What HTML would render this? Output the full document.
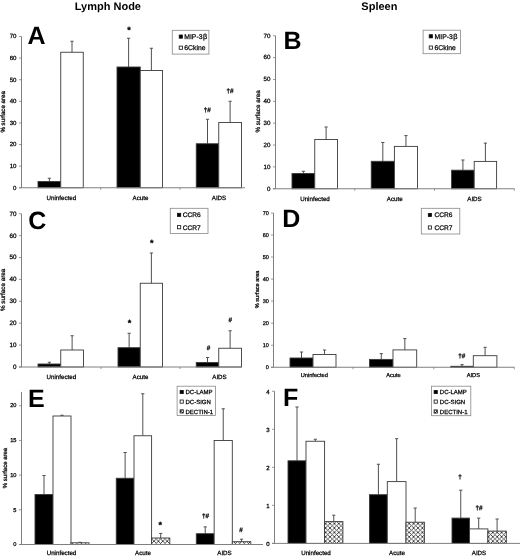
<!DOCTYPE html><html><head><meta charset="utf-8"><style>html,body{margin:0;padding:0;background:#fff;}svg{display:block;font-family:"Liberation Sans", sans-serif;text-rendering:geometricPrecision;}text{fill:#000;}.s{stroke:#000;stroke-width:0.25px;}svg{will-change:transform;}</style></head><body>
<svg width="520" height="557" viewBox="0 0 520 557">
<defs><pattern id="hatch" width="4.4" height="4.4" patternUnits="userSpaceOnUse"><rect width="4.4" height="4.4" fill="#fff"/><path d="M0,0 L4.4,4.4 M4.4,0 L0,4.4" stroke="#333" stroke-width="0.85"/></pattern><pattern id="hatch2" width="3.2" height="3.2" patternUnits="userSpaceOnUse"><rect width="3.2" height="3.2" fill="#fff"/><path d="M0,0 L3.2,3.2 M3.2,0 L0,3.2" stroke="#222" stroke-width="0.8"/></pattern></defs>
<rect width="520" height="557" fill="#fff"/>
<text x="107.9" y="9.7" font-size="11" text-anchor="middle" font-weight="bold">Lymph Node</text>
<text x="379.4" y="9.7" font-size="11" text-anchor="middle" font-weight="bold">Spleen</text>
<line x1="49.38" y1="181.5" x2="49.38" y2="178.25" stroke="#505050" stroke-width="1"/>
<line x1="47.77" y1="178.25" x2="50.98" y2="178.25" stroke="#505050" stroke-width="1"/>
<rect x="38" y="181.5" width="22.75" height="6.25" fill="#000" stroke="#3a3a3a" stroke-width="0.9"/>
<line x1="72" y1="52.25" x2="72" y2="41.25" stroke="#505050" stroke-width="1"/>
<line x1="70.4" y1="41.25" x2="73.6" y2="41.25" stroke="#505050" stroke-width="1"/>
<rect x="60.75" y="52.25" width="22.5" height="135.5" fill="#fff" stroke="#3a3a3a" stroke-width="0.9"/>
<line x1="128.62" y1="67" x2="128.62" y2="38.25" stroke="#505050" stroke-width="1"/>
<line x1="127.03" y1="38.25" x2="130.22" y2="38.25" stroke="#505050" stroke-width="1"/>
<rect x="117" y="67" width="23.25" height="120.75" fill="#000" stroke="#3a3a3a" stroke-width="0.9"/>
<line x1="151.38" y1="70.5" x2="151.38" y2="48.25" stroke="#505050" stroke-width="1"/>
<line x1="149.78" y1="48.25" x2="152.97" y2="48.25" stroke="#505050" stroke-width="1"/>
<rect x="140.25" y="70.5" width="22.25" height="117.25" fill="#fff" stroke="#3a3a3a" stroke-width="0.9"/>
<line x1="207.5" y1="143.75" x2="207.5" y2="119.25" stroke="#505050" stroke-width="1"/>
<line x1="205.9" y1="119.25" x2="209.1" y2="119.25" stroke="#505050" stroke-width="1"/>
<rect x="196.25" y="143.75" width="22.5" height="44" fill="#000" stroke="#3a3a3a" stroke-width="0.9"/>
<line x1="230.12" y1="122.5" x2="230.12" y2="101.25" stroke="#505050" stroke-width="1"/>
<line x1="228.53" y1="101.25" x2="231.72" y2="101.25" stroke="#505050" stroke-width="1"/>
<rect x="218.75" y="122.5" width="22.75" height="65.25" fill="#fff" stroke="#3a3a3a" stroke-width="0.9"/>
<line x1="21.5" y1="36.5" x2="21.5" y2="187.75" stroke="#808080" stroke-width="1"/>
<line x1="19" y1="187.75" x2="245" y2="187.75" stroke="#808080" stroke-width="1"/>
<line x1="100.75" y1="187.75" x2="100.75" y2="189.75" stroke="#808080" stroke-width="0.8"/>
<line x1="180" y1="187.75" x2="180" y2="189.75" stroke="#808080" stroke-width="0.8"/>
<line x1="19" y1="187.75" x2="21.5" y2="187.75" stroke="#808080" stroke-width="0.8"/>
<text x="16.5" y="189.58" font-size="6.1" text-anchor="end" font-weight="normal" class="s">0</text>
<line x1="19" y1="166.14" x2="21.5" y2="166.14" stroke="#808080" stroke-width="0.8"/>
<text x="16.5" y="167.97" font-size="6.1" text-anchor="end" font-weight="normal" class="s">10</text>
<line x1="19" y1="144.54" x2="21.5" y2="144.54" stroke="#808080" stroke-width="0.8"/>
<text x="16.5" y="146.37" font-size="6.1" text-anchor="end" font-weight="normal" class="s">20</text>
<line x1="19" y1="122.93" x2="21.5" y2="122.93" stroke="#808080" stroke-width="0.8"/>
<text x="16.5" y="124.76" font-size="6.1" text-anchor="end" font-weight="normal" class="s">30</text>
<line x1="19" y1="101.32" x2="21.5" y2="101.32" stroke="#808080" stroke-width="0.8"/>
<text x="16.5" y="103.15" font-size="6.1" text-anchor="end" font-weight="normal" class="s">40</text>
<line x1="19" y1="79.71" x2="21.5" y2="79.71" stroke="#808080" stroke-width="0.8"/>
<text x="16.5" y="81.54" font-size="6.1" text-anchor="end" font-weight="normal" class="s">50</text>
<line x1="19" y1="58.11" x2="21.5" y2="58.11" stroke="#808080" stroke-width="0.8"/>
<text x="16.5" y="59.94" font-size="6.1" text-anchor="end" font-weight="normal" class="s">60</text>
<line x1="19" y1="36.5" x2="21.5" y2="36.5" stroke="#808080" stroke-width="0.8"/>
<text x="16.5" y="38.33" font-size="6.1" text-anchor="end" font-weight="normal" class="s">70</text>
<text x="61.3" y="199.5" font-size="6.2" text-anchor="middle" font-weight="normal" class="s">Uninfected</text>
<text x="140.5" y="199.5" font-size="6.2" text-anchor="middle" font-weight="normal" class="s">Acute</text>
<text x="219" y="199.5" font-size="6.2" text-anchor="middle" font-weight="normal" class="s">AIDS</text>
<text class="s" x="0" y="0" font-size="6.2" text-anchor="middle" transform="translate(5,111.8) rotate(-90)">% surface area</text>
<text x="129.1" y="32.7" font-size="9" text-anchor="middle" font-weight="bold" class="s">*</text>
<text x="207.3" y="112" font-size="6.3" text-anchor="middle" font-weight="bold" class="s">†#</text>
<text x="230" y="93" font-size="6.3" text-anchor="middle" font-weight="bold" class="s">†#</text>
<rect x="172.25" y="30.3" width="36.65" height="23.8" fill="#fff" stroke="#888" stroke-width="0.8"/>
<rect x="179.2" y="35" width="3.2" height="3.2" fill="#000" stroke="#111" stroke-width="0.8"/>
<text x="184.3" y="39.05" font-size="6.8" text-anchor="start" font-weight="normal" class="s">MIP-3<tspan dx="0.5" font-size="7.34">β</tspan></text>
<rect x="179.2" y="46.1" width="3.2" height="3.2" fill="#fff" stroke="#111" stroke-width="0.8"/>
<text x="184.3" y="50.15" font-size="6.8" text-anchor="start" font-weight="normal" class="s">6Ckine</text>
<text x="27.6" y="43.8" font-size="25" text-anchor="start" font-weight="bold">A</text>
<line x1="303.38" y1="173.5" x2="303.38" y2="171.25" stroke="#505050" stroke-width="1"/>
<line x1="301.77" y1="171.25" x2="304.98" y2="171.25" stroke="#505050" stroke-width="1"/>
<rect x="292" y="173.5" width="22.75" height="15.25" fill="#000" stroke="#3a3a3a" stroke-width="0.9"/>
<line x1="326.12" y1="139.5" x2="326.12" y2="127" stroke="#505050" stroke-width="1"/>
<line x1="324.52" y1="127" x2="327.73" y2="127" stroke="#505050" stroke-width="1"/>
<rect x="314.75" y="139.5" width="22.75" height="49.25" fill="#fff" stroke="#3a3a3a" stroke-width="0.9"/>
<line x1="382.82" y1="161.3" x2="382.82" y2="142.5" stroke="#505050" stroke-width="1"/>
<line x1="381.22" y1="142.5" x2="384.43" y2="142.5" stroke="#505050" stroke-width="1"/>
<rect x="371.25" y="161.3" width="23.15" height="27.45" fill="#000" stroke="#3a3a3a" stroke-width="0.9"/>
<line x1="405.95" y1="146.4" x2="405.95" y2="135.6" stroke="#505050" stroke-width="1"/>
<line x1="404.35" y1="135.6" x2="407.55" y2="135.6" stroke="#505050" stroke-width="1"/>
<rect x="394.4" y="146.4" width="23.1" height="42.35" fill="#fff" stroke="#3a3a3a" stroke-width="0.9"/>
<line x1="462.9" y1="170.2" x2="462.9" y2="160" stroke="#505050" stroke-width="1"/>
<line x1="461.3" y1="160" x2="464.5" y2="160" stroke="#505050" stroke-width="1"/>
<rect x="451.6" y="170.2" width="22.6" height="18.55" fill="#000" stroke="#3a3a3a" stroke-width="0.9"/>
<line x1="485.4" y1="161.4" x2="485.4" y2="143.1" stroke="#505050" stroke-width="1"/>
<line x1="483.8" y1="143.1" x2="487" y2="143.1" stroke="#505050" stroke-width="1"/>
<rect x="474.2" y="161.4" width="22.4" height="27.35" fill="#fff" stroke="#3a3a3a" stroke-width="0.9"/>
<line x1="275.5" y1="35.75" x2="275.5" y2="188.75" stroke="#808080" stroke-width="1"/>
<line x1="273" y1="188.75" x2="514.5" y2="188.75" stroke="#808080" stroke-width="1"/>
<line x1="354.75" y1="188.75" x2="354.75" y2="190.75" stroke="#808080" stroke-width="0.8"/>
<line x1="434.5" y1="188.75" x2="434.5" y2="190.75" stroke="#808080" stroke-width="0.8"/>
<line x1="514.25" y1="188.75" x2="514.25" y2="190.75" stroke="#808080" stroke-width="0.8"/>
<line x1="273" y1="188.75" x2="275.5" y2="188.75" stroke="#808080" stroke-width="0.8"/>
<text x="270.5" y="190.61" font-size="6.2" text-anchor="end" font-weight="normal" class="s">0</text>
<line x1="273" y1="166.89" x2="275.5" y2="166.89" stroke="#808080" stroke-width="0.8"/>
<text x="270.5" y="168.75" font-size="6.2" text-anchor="end" font-weight="normal" class="s">10</text>
<line x1="273" y1="145.04" x2="275.5" y2="145.04" stroke="#808080" stroke-width="0.8"/>
<text x="270.5" y="146.9" font-size="6.2" text-anchor="end" font-weight="normal" class="s">20</text>
<line x1="273" y1="123.18" x2="275.5" y2="123.18" stroke="#808080" stroke-width="0.8"/>
<text x="270.5" y="125.04" font-size="6.2" text-anchor="end" font-weight="normal" class="s">30</text>
<line x1="273" y1="101.32" x2="275.5" y2="101.32" stroke="#808080" stroke-width="0.8"/>
<text x="270.5" y="103.18" font-size="6.2" text-anchor="end" font-weight="normal" class="s">40</text>
<line x1="273" y1="79.46" x2="275.5" y2="79.46" stroke="#808080" stroke-width="0.8"/>
<text x="270.5" y="81.32" font-size="6.2" text-anchor="end" font-weight="normal" class="s">50</text>
<line x1="273" y1="57.61" x2="275.5" y2="57.61" stroke="#808080" stroke-width="0.8"/>
<text x="270.5" y="59.47" font-size="6.2" text-anchor="end" font-weight="normal" class="s">60</text>
<line x1="273" y1="35.75" x2="275.5" y2="35.75" stroke="#808080" stroke-width="0.8"/>
<text x="270.5" y="37.61" font-size="6.2" text-anchor="end" font-weight="normal" class="s">70</text>
<text x="315" y="200.5" font-size="6.2" text-anchor="middle" font-weight="normal" class="s">Uninfected</text>
<text x="394.75" y="200.5" font-size="6.2" text-anchor="middle" font-weight="normal" class="s">Acute</text>
<text x="474.5" y="200.5" font-size="6.2" text-anchor="middle" font-weight="normal" class="s">AIDS</text>
<text class="s" x="0" y="0" font-size="6.3" text-anchor="middle" transform="translate(259.6,111.4) rotate(-90)">% surface area</text>
<rect x="423.1" y="30.2" width="37.4" height="23.5" fill="#fff" stroke="#888" stroke-width="0.8"/>
<rect x="429.2" y="34.7" width="3.2" height="3.2" fill="#000" stroke="#111" stroke-width="0.8"/>
<text x="434.6" y="38.75" font-size="6.8" text-anchor="start" font-weight="normal" class="s">MIP-3<tspan dx="0.5" font-size="7.34">β</tspan></text>
<rect x="429.2" y="46" width="3.2" height="3.2" fill="#fff" stroke="#111" stroke-width="0.8"/>
<text x="434.6" y="50.05" font-size="6.8" text-anchor="start" font-weight="normal" class="s">6Ckine</text>
<text x="283.6" y="48.55" font-size="25" text-anchor="start" font-weight="bold">B</text>
<line x1="49.38" y1="364" x2="49.38" y2="362.25" stroke="#505050" stroke-width="1"/>
<line x1="47.77" y1="362.25" x2="50.98" y2="362.25" stroke="#505050" stroke-width="1"/>
<rect x="38" y="364" width="22.75" height="3" fill="#000" stroke="#3a3a3a" stroke-width="0.9"/>
<line x1="72.12" y1="350" x2="72.12" y2="335.75" stroke="#505050" stroke-width="1"/>
<line x1="70.53" y1="335.75" x2="73.72" y2="335.75" stroke="#505050" stroke-width="1"/>
<rect x="60.75" y="350" width="22.75" height="17" fill="#fff" stroke="#3a3a3a" stroke-width="0.9"/>
<line x1="129.12" y1="347.7" x2="129.12" y2="333.25" stroke="#505050" stroke-width="1"/>
<line x1="127.53" y1="333.25" x2="130.72" y2="333.25" stroke="#505050" stroke-width="1"/>
<rect x="118" y="347.7" width="22.25" height="19.3" fill="#000" stroke="#3a3a3a" stroke-width="0.9"/>
<line x1="151.38" y1="283.25" x2="151.38" y2="253" stroke="#505050" stroke-width="1"/>
<line x1="149.78" y1="253" x2="152.97" y2="253" stroke="#505050" stroke-width="1"/>
<rect x="140.25" y="283.25" width="22.25" height="83.75" fill="#fff" stroke="#3a3a3a" stroke-width="0.9"/>
<line x1="207.5" y1="362.5" x2="207.5" y2="357.5" stroke="#505050" stroke-width="1"/>
<line x1="205.9" y1="357.5" x2="209.1" y2="357.5" stroke="#505050" stroke-width="1"/>
<rect x="196.25" y="362.5" width="22.5" height="4.5" fill="#000" stroke="#3a3a3a" stroke-width="0.9"/>
<line x1="230.12" y1="348.25" x2="230.12" y2="330.75" stroke="#505050" stroke-width="1"/>
<line x1="228.53" y1="330.75" x2="231.72" y2="330.75" stroke="#505050" stroke-width="1"/>
<rect x="218.75" y="348.25" width="22.75" height="18.75" fill="#fff" stroke="#3a3a3a" stroke-width="0.9"/>
<line x1="21.5" y1="213.75" x2="21.5" y2="367" stroke="#808080" stroke-width="1"/>
<line x1="19" y1="367" x2="242" y2="367" stroke="#808080" stroke-width="1"/>
<line x1="101" y1="367" x2="101" y2="369" stroke="#808080" stroke-width="0.8"/>
<line x1="180" y1="367" x2="180" y2="369" stroke="#808080" stroke-width="0.8"/>
<line x1="19" y1="367" x2="21.5" y2="367" stroke="#808080" stroke-width="0.8"/>
<text x="16.5" y="368.89" font-size="6.3" text-anchor="end" font-weight="normal" class="s">0</text>
<line x1="19" y1="345.11" x2="21.5" y2="345.11" stroke="#808080" stroke-width="0.8"/>
<text x="16.5" y="347" font-size="6.3" text-anchor="end" font-weight="normal" class="s">10</text>
<line x1="19" y1="323.21" x2="21.5" y2="323.21" stroke="#808080" stroke-width="0.8"/>
<text x="16.5" y="325.1" font-size="6.3" text-anchor="end" font-weight="normal" class="s">20</text>
<line x1="19" y1="301.32" x2="21.5" y2="301.32" stroke="#808080" stroke-width="0.8"/>
<text x="16.5" y="303.21" font-size="6.3" text-anchor="end" font-weight="normal" class="s">30</text>
<line x1="19" y1="279.43" x2="21.5" y2="279.43" stroke="#808080" stroke-width="0.8"/>
<text x="16.5" y="281.32" font-size="6.3" text-anchor="end" font-weight="normal" class="s">40</text>
<line x1="19" y1="257.54" x2="21.5" y2="257.54" stroke="#808080" stroke-width="0.8"/>
<text x="16.5" y="259.43" font-size="6.3" text-anchor="end" font-weight="normal" class="s">50</text>
<line x1="19" y1="235.64" x2="21.5" y2="235.64" stroke="#808080" stroke-width="0.8"/>
<text x="16.5" y="237.53" font-size="6.3" text-anchor="end" font-weight="normal" class="s">60</text>
<line x1="19" y1="213.75" x2="21.5" y2="213.75" stroke="#808080" stroke-width="0.8"/>
<text x="16.5" y="215.64" font-size="6.3" text-anchor="end" font-weight="normal" class="s">70</text>
<text x="61.3" y="379" font-size="6.2" text-anchor="middle" font-weight="normal" class="s">Uninfected</text>
<text x="140.5" y="379" font-size="6.2" text-anchor="middle" font-weight="normal" class="s">Acute</text>
<text x="219.5" y="379" font-size="6.2" text-anchor="middle" font-weight="normal" class="s">AIDS</text>
<text class="s" x="0" y="0" font-size="6.3" text-anchor="middle" transform="translate(5,289.9) rotate(-90)">% surface area</text>
<text x="129.5" y="326.35" font-size="9" text-anchor="middle" font-weight="bold" class="s">*</text>
<text x="151.8" y="245.8" font-size="9" text-anchor="middle" font-weight="bold" class="s">*</text>
<text x="208.5" y="350" font-size="6.3" text-anchor="middle" font-weight="bold" class="s">#</text>
<text x="230.25" y="321.5" font-size="6.3" text-anchor="middle" font-weight="bold" class="s">#</text>
<rect x="170.25" y="208.3" width="37.75" height="25.1" fill="#fff" stroke="#888" stroke-width="0.8"/>
<rect x="177.5" y="213.3" width="3.2" height="3.2" fill="#000" stroke="#111" stroke-width="0.8"/>
<text x="182.8" y="217.28" font-size="6.6" text-anchor="start" font-weight="normal" class="s">CCR6</text>
<rect x="177.5" y="225.6" width="3.2" height="3.2" fill="#fff" stroke="#111" stroke-width="0.8"/>
<text x="182.8" y="229.58" font-size="6.6" text-anchor="start" font-weight="normal" class="s">CCR7</text>
<text x="28.35" y="228.8" font-size="25" text-anchor="start" font-weight="bold">C</text>
<line x1="301.5" y1="358" x2="301.5" y2="352" stroke="#505050" stroke-width="1"/>
<line x1="299.9" y1="352" x2="303.1" y2="352" stroke="#505050" stroke-width="1"/>
<rect x="290" y="358" width="23" height="9.25" fill="#000" stroke="#3a3a3a" stroke-width="0.9"/>
<line x1="324.5" y1="354.5" x2="324.5" y2="350" stroke="#505050" stroke-width="1"/>
<line x1="322.9" y1="350" x2="326.1" y2="350" stroke="#505050" stroke-width="1"/>
<rect x="313" y="354.5" width="23" height="12.75" fill="#fff" stroke="#3a3a3a" stroke-width="0.9"/>
<line x1="381.25" y1="359.4" x2="381.25" y2="353.6" stroke="#505050" stroke-width="1"/>
<line x1="379.65" y1="353.6" x2="382.85" y2="353.6" stroke="#505050" stroke-width="1"/>
<rect x="369.5" y="359.4" width="23.5" height="7.85" fill="#000" stroke="#3a3a3a" stroke-width="0.9"/>
<line x1="404.85" y1="349.9" x2="404.85" y2="338.6" stroke="#505050" stroke-width="1"/>
<line x1="403.25" y1="338.6" x2="406.45" y2="338.6" stroke="#505050" stroke-width="1"/>
<rect x="393" y="349.9" width="23.7" height="17.35" fill="#fff" stroke="#3a3a3a" stroke-width="0.9"/>
<line x1="462.05" y1="366.3" x2="462.05" y2="364.6" stroke="#505050" stroke-width="1"/>
<line x1="460.45" y1="364.6" x2="463.65" y2="364.6" stroke="#505050" stroke-width="1"/>
<rect x="450.8" y="366.3" width="22.5" height="0.95" fill="#000" stroke="#3a3a3a" stroke-width="0.9"/>
<line x1="485.1" y1="355.7" x2="485.1" y2="347.3" stroke="#505050" stroke-width="1"/>
<line x1="483.5" y1="347.3" x2="486.7" y2="347.3" stroke="#505050" stroke-width="1"/>
<rect x="473.3" y="355.7" width="23.6" height="11.55" fill="#fff" stroke="#3a3a3a" stroke-width="0.9"/>
<line x1="273.5" y1="213" x2="273.5" y2="367.25" stroke="#808080" stroke-width="1"/>
<line x1="271" y1="367.25" x2="514.5" y2="367.25" stroke="#808080" stroke-width="1"/>
<line x1="353" y1="367.25" x2="353" y2="369.25" stroke="#808080" stroke-width="0.8"/>
<line x1="433.75" y1="367.25" x2="433.75" y2="369.25" stroke="#808080" stroke-width="0.8"/>
<line x1="514.25" y1="367.25" x2="514.25" y2="369.25" stroke="#808080" stroke-width="0.8"/>
<line x1="271" y1="367.25" x2="273.5" y2="367.25" stroke="#808080" stroke-width="0.8"/>
<text x="268.9" y="368.9" font-size="5.5" text-anchor="end" font-weight="normal" class="s">0</text>
<line x1="271" y1="345.21" x2="273.5" y2="345.21" stroke="#808080" stroke-width="0.8"/>
<text x="268.9" y="346.86" font-size="5.5" text-anchor="end" font-weight="normal" class="s">10</text>
<line x1="271" y1="323.18" x2="273.5" y2="323.18" stroke="#808080" stroke-width="0.8"/>
<text x="268.9" y="324.83" font-size="5.5" text-anchor="end" font-weight="normal" class="s">20</text>
<line x1="271" y1="301.14" x2="273.5" y2="301.14" stroke="#808080" stroke-width="0.8"/>
<text x="268.9" y="302.79" font-size="5.5" text-anchor="end" font-weight="normal" class="s">30</text>
<line x1="271" y1="279.11" x2="273.5" y2="279.11" stroke="#808080" stroke-width="0.8"/>
<text x="268.9" y="280.76" font-size="5.5" text-anchor="end" font-weight="normal" class="s">40</text>
<line x1="271" y1="257.07" x2="273.5" y2="257.07" stroke="#808080" stroke-width="0.8"/>
<text x="268.9" y="258.72" font-size="5.5" text-anchor="end" font-weight="normal" class="s">50</text>
<line x1="271" y1="235.04" x2="273.5" y2="235.04" stroke="#808080" stroke-width="0.8"/>
<text x="268.9" y="236.69" font-size="5.5" text-anchor="end" font-weight="normal" class="s">60</text>
<line x1="271" y1="213" x2="273.5" y2="213" stroke="#808080" stroke-width="0.8"/>
<text x="268.9" y="214.65" font-size="5.5" text-anchor="end" font-weight="normal" class="s">70</text>
<text x="314.25" y="377.3" font-size="5.7" text-anchor="middle" font-weight="normal" class="s">Uninfected</text>
<text x="393.4" y="377.3" font-size="5.7" text-anchor="middle" font-weight="normal" class="s">Acute</text>
<text x="473.35" y="377.3" font-size="5.7" text-anchor="middle" font-weight="normal" class="s">AIDS</text>
<text class="s" x="0" y="0" font-size="5.6" text-anchor="middle" transform="translate(259.4,289.4) rotate(-90)">% surface area</text>
<text x="461.7" y="357.5" font-size="6.3" text-anchor="middle" font-weight="bold" class="s">†#</text>
<rect x="421.3" y="208.3" width="38.5" height="25.7" fill="#fff" stroke="#888" stroke-width="0.8"/>
<rect x="428.3" y="213.4" width="3.2" height="3.2" fill="#000" stroke="#111" stroke-width="0.8"/>
<text x="434.5" y="217.38" font-size="6.6" text-anchor="start" font-weight="normal" class="s">CCR6</text>
<rect x="428.3" y="225.9" width="3.2" height="3.2" fill="#fff" stroke="#111" stroke-width="0.8"/>
<text x="434.5" y="229.88" font-size="6.6" text-anchor="start" font-weight="normal" class="s">CCR7</text>
<text x="282.35" y="227.3" font-size="25" text-anchor="start" font-weight="bold">D</text>
<line x1="44" y1="494.5" x2="44" y2="475.5" stroke="#505050" stroke-width="1"/>
<line x1="42.4" y1="475.5" x2="45.6" y2="475.5" stroke="#505050" stroke-width="1"/>
<rect x="35" y="494.5" width="18" height="50" fill="#000" stroke="#3a3a3a" stroke-width="0.9"/>
<line x1="62" y1="416" x2="62" y2="415.25" stroke="#505050" stroke-width="1"/>
<line x1="60.4" y1="415.25" x2="63.6" y2="415.25" stroke="#505050" stroke-width="1"/>
<rect x="53" y="416" width="18" height="128.5" fill="#fff" stroke="#3a3a3a" stroke-width="0.9"/>
<line x1="80" y1="542.8" x2="80" y2="542.3" stroke="#505050" stroke-width="1"/>
<line x1="78.4" y1="542.3" x2="81.6" y2="542.3" stroke="#505050" stroke-width="1"/>
<rect x="71" y="542.8" width="18" height="1.7" fill="url(#hatch)" stroke="#3a3a3a" stroke-width="0.9"/>
<line x1="125.12" y1="478.25" x2="125.12" y2="452.5" stroke="#505050" stroke-width="1"/>
<line x1="123.53" y1="452.5" x2="126.72" y2="452.5" stroke="#505050" stroke-width="1"/>
<rect x="116.25" y="478.25" width="17.75" height="66.25" fill="#000" stroke="#3a3a3a" stroke-width="0.9"/>
<line x1="142.8" y1="435.75" x2="142.8" y2="393.75" stroke="#505050" stroke-width="1"/>
<line x1="141.2" y1="393.75" x2="144.4" y2="393.75" stroke="#505050" stroke-width="1"/>
<rect x="134" y="435.75" width="17.6" height="108.75" fill="#fff" stroke="#3a3a3a" stroke-width="0.9"/>
<line x1="160.7" y1="538" x2="160.7" y2="533.4" stroke="#505050" stroke-width="1"/>
<line x1="159.1" y1="533.4" x2="162.3" y2="533.4" stroke="#505050" stroke-width="1"/>
<rect x="151.6" y="538" width="18.2" height="6.5" fill="url(#hatch)" stroke="#3a3a3a" stroke-width="0.9"/>
<line x1="205.23" y1="533.7" x2="205.23" y2="526.9" stroke="#505050" stroke-width="1"/>
<line x1="203.63" y1="526.9" x2="206.83" y2="526.9" stroke="#505050" stroke-width="1"/>
<rect x="196.3" y="533.7" width="17.85" height="10.8" fill="#000" stroke="#3a3a3a" stroke-width="0.9"/>
<line x1="223.23" y1="440.5" x2="223.23" y2="408.75" stroke="#505050" stroke-width="1"/>
<line x1="221.63" y1="408.75" x2="224.83" y2="408.75" stroke="#505050" stroke-width="1"/>
<rect x="214.15" y="440.5" width="18.15" height="104" fill="#fff" stroke="#3a3a3a" stroke-width="0.9"/>
<line x1="241.55" y1="541.7" x2="241.55" y2="539.2" stroke="#505050" stroke-width="1"/>
<line x1="239.95" y1="539.2" x2="243.15" y2="539.2" stroke="#505050" stroke-width="1"/>
<rect x="232.3" y="541.7" width="18.5" height="2.8" fill="url(#hatch)" stroke="#3a3a3a" stroke-width="0.9"/>
<line x1="21.5" y1="391.88" x2="21.5" y2="544.5" stroke="#808080" stroke-width="1"/>
<line x1="19" y1="544.5" x2="263" y2="544.5" stroke="#808080" stroke-width="1"/>
<line x1="19" y1="544.5" x2="21.5" y2="544.5" stroke="#808080" stroke-width="0.8"/>
<text x="16.5" y="546.21" font-size="5.7" text-anchor="end" font-weight="normal" class="s">0</text>
<line x1="19" y1="509.81" x2="21.5" y2="509.81" stroke="#808080" stroke-width="0.8"/>
<text x="16.5" y="511.52" font-size="5.7" text-anchor="end" font-weight="normal" class="s">5</text>
<line x1="19" y1="475.12" x2="21.5" y2="475.12" stroke="#808080" stroke-width="0.8"/>
<text x="16.5" y="476.83" font-size="5.7" text-anchor="end" font-weight="normal" class="s">10</text>
<line x1="19" y1="440.44" x2="21.5" y2="440.44" stroke="#808080" stroke-width="0.8"/>
<text x="16.5" y="442.15" font-size="5.7" text-anchor="end" font-weight="normal" class="s">15</text>
<line x1="19" y1="405.75" x2="21.5" y2="405.75" stroke="#808080" stroke-width="0.8"/>
<text x="16.5" y="407.46" font-size="5.7" text-anchor="end" font-weight="normal" class="s">20</text>
<text x="61.5" y="555" font-size="6.2" text-anchor="middle" font-weight="normal" class="s">Uninfected</text>
<text x="143" y="555" font-size="6.2" text-anchor="middle" font-weight="normal" class="s">Acute</text>
<text x="224.5" y="555" font-size="6.2" text-anchor="middle" font-weight="normal" class="s">AIDS</text>
<text class="s" x="0" y="0" font-size="6" text-anchor="middle" transform="translate(6.8,468) rotate(-90)">% surface area</text>
<text x="160.3" y="527.8" font-size="9" text-anchor="middle" font-weight="bold" class="s">*</text>
<text x="205.6" y="517.8" font-size="6.3" text-anchor="middle" font-weight="bold" class="s">†#</text>
<text x="240.9" y="531.5" font-size="6.3" text-anchor="middle" font-weight="bold" class="s">#</text>
<rect x="177.1" y="386.2" width="38.3" height="29.2" fill="#fff" stroke="#888" stroke-width="0.8"/>
<rect x="180.1" y="390.4" width="3.2" height="3.2" fill="#000" stroke="#111" stroke-width="0.8"/>
<text x="185.5" y="394.16" font-size="6" text-anchor="start" font-weight="normal" class="s">DC-LAMP</text>
<rect x="180.1" y="400" width="3.2" height="3.2" fill="#fff" stroke="#111" stroke-width="0.8"/>
<text x="185.5" y="403.76" font-size="6" text-anchor="start" font-weight="normal" class="s">DC-SIGN</text>
<rect x="180.1" y="409.8" width="3.2" height="3.2" fill="url(#hatch2)" stroke="#111" stroke-width="0.8"/>
<text x="185.5" y="413.56" font-size="6" text-anchor="start" font-weight="normal" class="s">DECTIN-1</text>
<text x="28.1" y="407.3" font-size="25" text-anchor="start" font-weight="bold">E</text>
<line x1="297" y1="460.8" x2="297" y2="407" stroke="#505050" stroke-width="1"/>
<line x1="295.4" y1="407" x2="298.6" y2="407" stroke="#505050" stroke-width="1"/>
<rect x="288" y="460.8" width="18" height="82.6" fill="#000" stroke="#3a3a3a" stroke-width="0.9"/>
<line x1="315.3" y1="441.25" x2="315.3" y2="439.25" stroke="#505050" stroke-width="1"/>
<line x1="313.7" y1="439.25" x2="316.9" y2="439.25" stroke="#505050" stroke-width="1"/>
<rect x="306" y="441.25" width="18.6" height="102.15" fill="#fff" stroke="#3a3a3a" stroke-width="0.9"/>
<line x1="333.75" y1="521.6" x2="333.75" y2="515.2" stroke="#505050" stroke-width="1"/>
<line x1="332.15" y1="515.2" x2="335.35" y2="515.2" stroke="#505050" stroke-width="1"/>
<rect x="324.6" y="521.6" width="18.3" height="21.8" fill="url(#hatch)" stroke="#3a3a3a" stroke-width="0.9"/>
<line x1="378.4" y1="494.7" x2="378.4" y2="464.25" stroke="#505050" stroke-width="1"/>
<line x1="376.8" y1="464.25" x2="380" y2="464.25" stroke="#505050" stroke-width="1"/>
<rect x="369.5" y="494.7" width="17.8" height="48.7" fill="#000" stroke="#3a3a3a" stroke-width="0.9"/>
<line x1="396.65" y1="481.6" x2="396.65" y2="438.7" stroke="#505050" stroke-width="1"/>
<line x1="395.05" y1="438.7" x2="398.25" y2="438.7" stroke="#505050" stroke-width="1"/>
<rect x="387.3" y="481.6" width="18.7" height="61.8" fill="#fff" stroke="#3a3a3a" stroke-width="0.9"/>
<line x1="415.2" y1="522.2" x2="415.2" y2="508" stroke="#505050" stroke-width="1"/>
<line x1="413.6" y1="508" x2="416.8" y2="508" stroke="#505050" stroke-width="1"/>
<rect x="406" y="522.2" width="18.4" height="21.2" fill="url(#hatch)" stroke="#3a3a3a" stroke-width="0.9"/>
<line x1="460.75" y1="518.1" x2="460.75" y2="490.2" stroke="#505050" stroke-width="1"/>
<line x1="459.15" y1="490.2" x2="462.35" y2="490.2" stroke="#505050" stroke-width="1"/>
<rect x="452" y="518.1" width="17.5" height="25.3" fill="#000" stroke="#3a3a3a" stroke-width="0.9"/>
<line x1="478.7" y1="528.9" x2="478.7" y2="518.1" stroke="#505050" stroke-width="1"/>
<line x1="477.1" y1="518.1" x2="480.3" y2="518.1" stroke="#505050" stroke-width="1"/>
<rect x="469.5" y="528.9" width="18.4" height="14.5" fill="#fff" stroke="#3a3a3a" stroke-width="0.9"/>
<line x1="497.1" y1="531.1" x2="497.1" y2="519" stroke="#505050" stroke-width="1"/>
<line x1="495.5" y1="519" x2="498.7" y2="519" stroke="#505050" stroke-width="1"/>
<rect x="487.9" y="531.1" width="18.4" height="12.3" fill="url(#hatch)" stroke="#3a3a3a" stroke-width="0.9"/>
<line x1="274.5" y1="391.25" x2="274.5" y2="543.4" stroke="#808080" stroke-width="1"/>
<line x1="272" y1="543.4" x2="520" y2="543.4" stroke="#808080" stroke-width="1"/>
<line x1="272" y1="543.4" x2="274.5" y2="543.4" stroke="#808080" stroke-width="0.8"/>
<text x="269.5" y="545.7" font-size="6" text-anchor="end" font-weight="normal" class="s">0</text>
<line x1="272" y1="505.36" x2="274.5" y2="505.36" stroke="#808080" stroke-width="0.8"/>
<text x="269.5" y="507.66" font-size="6" text-anchor="end" font-weight="normal" class="s">1</text>
<line x1="272" y1="467.32" x2="274.5" y2="467.32" stroke="#808080" stroke-width="0.8"/>
<text x="269.5" y="469.62" font-size="6" text-anchor="end" font-weight="normal" class="s">2</text>
<line x1="272" y1="429.29" x2="274.5" y2="429.29" stroke="#808080" stroke-width="0.8"/>
<text x="269.5" y="431.59" font-size="6" text-anchor="end" font-weight="normal" class="s">3</text>
<line x1="272" y1="391.25" x2="274.5" y2="391.25" stroke="#808080" stroke-width="0.8"/>
<text x="269.5" y="393.55" font-size="6" text-anchor="end" font-weight="normal" class="s">4</text>
<text x="316" y="555" font-size="6.2" text-anchor="middle" font-weight="normal" class="s">Uninfected</text>
<text x="397" y="555" font-size="6.2" text-anchor="middle" font-weight="normal" class="s">Acute</text>
<text x="479" y="555" font-size="6.2" text-anchor="middle" font-weight="normal" class="s">AIDS</text>
<text x="460" y="479.4" font-size="6.3" text-anchor="middle" font-weight="bold" class="s">†</text>
<text x="479" y="510" font-size="6.3" text-anchor="middle" font-weight="bold" class="s">†#</text>
<rect x="431.4" y="386.2" width="39.4" height="29.5" fill="#fff" stroke="#888" stroke-width="0.8"/>
<rect x="434.1" y="390.4" width="3.2" height="3.2" fill="#000" stroke="#111" stroke-width="0.8"/>
<text x="439.8" y="394.16" font-size="6" text-anchor="start" font-weight="normal" class="s">DC-LAMP</text>
<rect x="434.1" y="400" width="3.2" height="3.2" fill="#fff" stroke="#111" stroke-width="0.8"/>
<text x="439.8" y="403.76" font-size="6" text-anchor="start" font-weight="normal" class="s">DC-SIGN</text>
<rect x="434.1" y="409.9" width="3.2" height="3.2" fill="url(#hatch2)" stroke="#111" stroke-width="0.8"/>
<text x="439.8" y="413.66" font-size="6" text-anchor="start" font-weight="normal" class="s">DECTIN-1</text>
<text x="283.1" y="405.55" font-size="25" text-anchor="start" font-weight="bold">F</text>
</svg></body></html>
